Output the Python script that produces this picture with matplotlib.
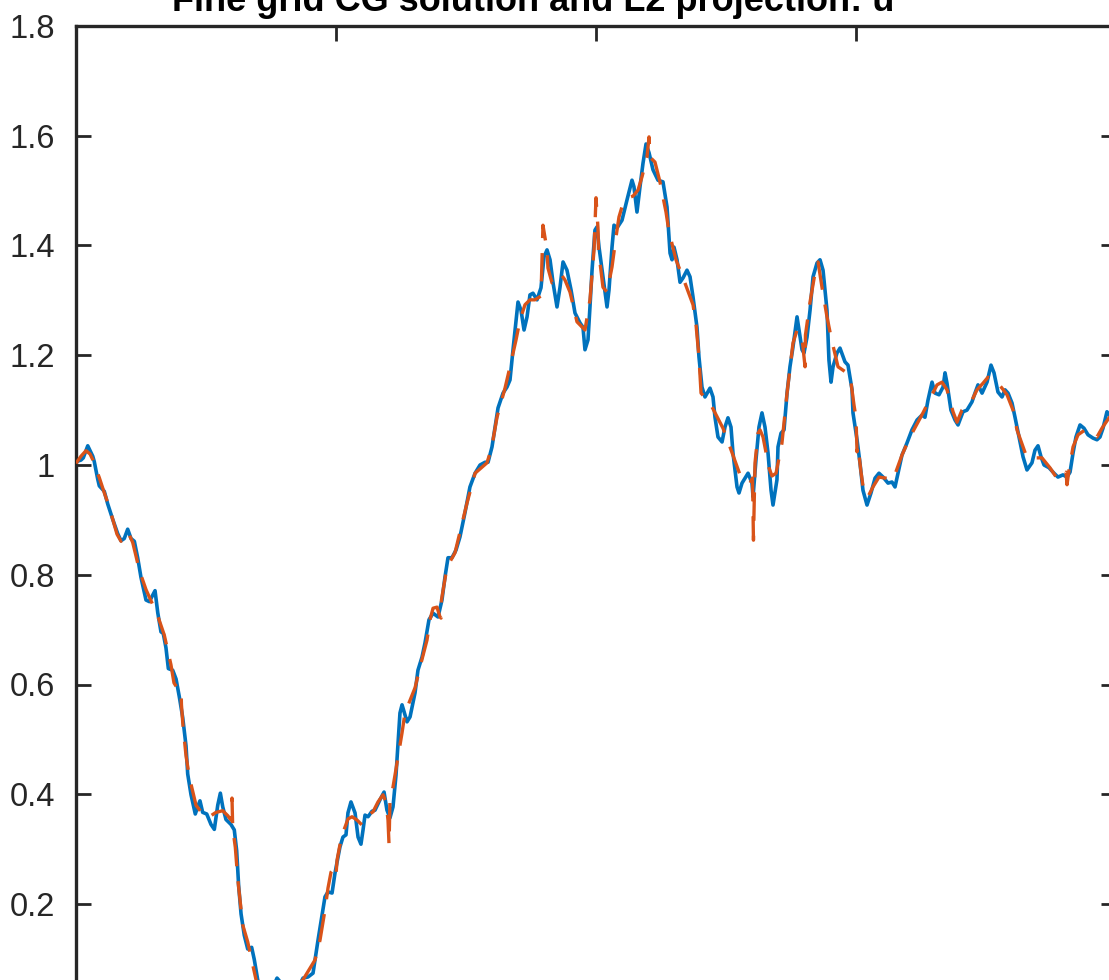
import matplotlib
matplotlib.use("Agg")
import matplotlib.pyplot as plt
from matplotlib import font_manager

title_text = "Fine grid CG solution and L2 projection: u"

# fine-grid CG solution
blue_x = [0.0000, 0.0048, 0.0070, 0.0113, 0.0161, 0.0176, 0.0209, 0.0224, 0.0272, 0.0305,
          0.0353, 0.0401, 0.0433, 0.0464, 0.0497, 0.0529, 0.0561, 0.0593, 0.0625, 0.0673,
          0.0705, 0.0738, 0.0760, 0.0786, 0.0817, 0.0839, 0.0865, 0.0888, 0.0930, 0.0962,
          0.0993, 0.1026, 0.1058, 0.1074, 0.1106, 0.1147, 0.1170, 0.1192, 0.1218, 0.1257,
          0.1298, 0.1330, 0.1363, 0.1388, 0.1411, 0.1442, 0.1490, 0.1522, 0.1545, 0.1564,
          0.1587, 0.1618, 0.1651, 0.1689, 0.1714, 0.1747, 0.1779, 0.1827, 0.1875, 0.1933,
          0.1990, 0.2058, 0.2125, 0.2183, 0.2231, 0.2279, 0.2327, 0.2394, 0.2423, 0.2462,
          0.2490, 0.2538, 0.2567, 0.2596, 0.2615, 0.2644, 0.2683, 0.2712, 0.2740, 0.2760,
          0.2779, 0.2808, 0.2846, 0.2875, 0.2923, 0.2962, 0.2990, 0.3019, 0.3048, 0.3077,
          0.3096, 0.3115, 0.3135, 0.3183, 0.3212, 0.3260, 0.3288, 0.3327, 0.3356, 0.3394,
          0.3433, 0.3481, 0.3519, 0.3548, 0.3577, 0.3615, 0.3654, 0.3692, 0.3740, 0.3788,
          0.3837, 0.3885, 0.3933, 0.3962, 0.4000, 0.4029, 0.4058, 0.4106, 0.4144, 0.4173,
          0.4202, 0.4250, 0.4279, 0.4308, 0.4337, 0.4365, 0.4394, 0.4433, 0.4471, 0.4500,
          0.4529, 0.4558, 0.4587, 0.4625, 0.4654, 0.4683, 0.4721, 0.4760, 0.4798, 0.4846,
          0.4875, 0.4894, 0.4923, 0.4942, 0.4962, 0.4990, 0.5010, 0.5029, 0.5067, 0.5106,
          0.5125, 0.5154, 0.5173, 0.5202, 0.5250, 0.5298, 0.5346, 0.5365, 0.5394, 0.5423,
          0.5452, 0.5481, 0.5510, 0.5548, 0.5596, 0.5644, 0.5683, 0.5712, 0.5731, 0.5750,
          0.5779, 0.5808, 0.5837, 0.5875, 0.5904, 0.5933, 0.5971, 0.5990, 0.6019, 0.6048,
          0.6096, 0.6125, 0.6144, 0.6173, 0.6212, 0.6240, 0.6269, 0.6298, 0.6317, 0.6356,
          0.6375, 0.6404, 0.6433, 0.6462, 0.6500, 0.6510, 0.6538, 0.6567, 0.6596, 0.6625,
          0.6654, 0.6683, 0.6702, 0.6740, 0.6750, 0.6779, 0.6808, 0.6837, 0.6865, 0.6894,
          0.6933, 0.6952, 0.6981, 0.7000, 0.7029, 0.7058, 0.7087, 0.7125, 0.7154, 0.7183,
          0.7221, 0.7240, 0.7260, 0.7279, 0.7317, 0.7346, 0.7394, 0.7423, 0.7462, 0.7471,
          0.7510, 0.7538, 0.7567, 0.7606, 0.7644, 0.7683, 0.7721, 0.7760, 0.7808, 0.7846,
          0.7875, 0.7904, 0.7942, 0.7990, 0.8038, 0.8087, 0.8135, 0.8163, 0.8192, 0.8231,
          0.8260, 0.8298, 0.8337, 0.8356, 0.8375, 0.8413, 0.8452, 0.8481, 0.8529, 0.8567,
          0.8615, 0.8644, 0.8673, 0.8712, 0.8760, 0.8798, 0.8827, 0.8865, 0.8904, 0.8933,
          0.8962, 0.9000, 0.9029, 0.9067, 0.9106, 0.9144, 0.9192, 0.9221, 0.9250, 0.9279,
          0.9308, 0.9356, 0.9404, 0.9442, 0.9490, 0.9529, 0.9558, 0.9587, 0.9615, 0.9654,
          0.9692, 0.9731, 0.9779, 0.9817, 0.9846, 0.9875, 0.9913, 0.9962, 1.0000]
blue_u = [1.006, 1.009, 1.013, 1.035, 1.016, 1.006, 0.974, 0.962, 0.952, 0.929,
          0.901, 0.875, 0.862, 0.866, 0.883, 0.866, 0.861, 0.831, 0.795, 0.754,
          0.751, 0.763, 0.771, 0.731, 0.696, 0.693, 0.667, 0.629, 0.626, 0.610,
          0.578, 0.540, 0.488, 0.437, 0.399, 0.364, 0.377, 0.388, 0.367, 0.364,
          0.345, 0.336, 0.380, 0.402, 0.377, 0.354, 0.345, 0.335, 0.297, 0.233,
          0.182, 0.143, 0.118, 0.121, 0.099, 0.062, 0.043, 0.029, 0.040, 0.065,
          0.052, 0.034, 0.043, 0.065, 0.067, 0.074, 0.134, 0.213, 0.222, 0.220,
          0.256, 0.304, 0.322, 0.326, 0.366, 0.386, 0.366, 0.322, 0.309, 0.335,
          0.362, 0.359, 0.369, 0.371, 0.390, 0.404, 0.371, 0.357, 0.377, 0.435,
          0.490, 0.548, 0.563, 0.532, 0.541, 0.585, 0.626, 0.650, 0.676, 0.718,
          0.730, 0.723, 0.754, 0.796, 0.831, 0.831, 0.845, 0.869, 0.913, 0.960,
          0.985, 1.000, 1.005, 1.005, 1.033, 1.069, 1.104, 1.131, 1.142, 1.155,
          1.210, 1.297, 1.282, 1.246, 1.270, 1.310, 1.313, 1.301, 1.323, 1.379,
          1.392, 1.374, 1.332, 1.288, 1.324, 1.370, 1.355, 1.319, 1.277, 1.259,
          1.251, 1.210, 1.228, 1.288, 1.355, 1.428, 1.434, 1.397, 1.343, 1.288,
          1.319, 1.397, 1.437, 1.432, 1.446, 1.483, 1.519, 1.507, 1.461, 1.507,
          1.550, 1.585, 1.569, 1.538, 1.519, 1.516, 1.470, 1.386, 1.374, 1.397,
          1.374, 1.333, 1.341, 1.355, 1.343, 1.306, 1.251, 1.197, 1.142, 1.124,
          1.140, 1.124, 1.087, 1.051, 1.042, 1.069, 1.086, 1.069, 1.022, 0.960,
          0.949, 0.967, 0.976, 0.985, 0.967, 0.942, 1.009, 1.069, 1.095, 1.069,
          1.022, 0.954, 0.927, 0.973, 1.033, 1.058, 1.064, 1.131, 1.179, 1.215,
          1.270, 1.246, 1.210, 1.204, 1.233, 1.282, 1.343, 1.368, 1.374, 1.355,
          1.282, 1.191, 1.151, 1.179, 1.204, 1.213, 1.188, 1.182, 1.137, 1.095,
          1.046, 1.004, 0.954, 0.927, 0.949, 0.976, 0.985, 0.978, 0.967, 0.969,
          0.960, 0.985, 1.018, 1.040, 1.064, 1.082, 1.091, 1.087, 1.118, 1.151,
          1.131, 1.128, 1.142, 1.168, 1.149, 1.100, 1.082, 1.073, 1.097, 1.100,
          1.115, 1.131, 1.146, 1.131, 1.151, 1.182, 1.168, 1.133, 1.124, 1.137,
          1.131, 1.113, 1.087, 1.051, 1.015, 0.991, 1.004, 1.027, 1.035, 1.015,
          1.000, 0.995, 0.985, 0.978, 0.982, 0.978, 0.987, 1.022, 1.051, 1.073,
          1.067, 1.055, 1.049, 1.046, 1.051, 1.067, 1.097, 1.086, 1.073]

# coarse L2 projection (discontinuous across element boundaries)
proj_x = [0.0000, 0.0048, 0.0096, 0.0135, 0.0163, 0.0192, 0.0224, 0.0269, 0.0320, 0.0368,
          0.0394, 0.0433, 0.0481, 0.0500, 0.0545, 0.0577, 0.0609, 0.0673, 0.0786, 0.0849,
          0.0913, 0.0942, 0.0978, 0.1010, 0.1014, 0.1029, 0.1058, 0.1090, 0.1154, 0.1202,
          0.1266, 0.1346, 0.1411, 0.1459, 0.1490, 0.1500, 0.1507, 0.1532, 0.1555, 0.1577,
          0.1603, 0.1651, 0.1731, 0.1798, 0.1885, 0.2000, 0.2115, 0.2183, 0.2298, 0.2346,
          0.2394, 0.2423, 0.2452, 0.2481, 0.2500, 0.2510, 0.2538, 0.2577, 0.2615, 0.2654,
          0.2702, 0.2750, 0.2808, 0.2856, 0.2904, 0.2952, 0.2981, 0.3000, 0.3010, 0.3019,
          0.3048, 0.3087, 0.3135, 0.3163, 0.3260, 0.3308, 0.3375, 0.3404, 0.3433, 0.3471,
          0.3500, 0.3510, 0.3514, 0.3567, 0.3644, 0.3721, 0.3760, 0.3837, 0.3952, 0.3981,
          0.4010, 0.4048, 0.4125, 0.4173, 0.4231, 0.4269, 0.4317, 0.4365, 0.4413, 0.4471,
          0.4490, 0.4529, 0.4538, 0.4577, 0.4625, 0.4663, 0.4702, 0.4750, 0.4817, 0.4894,
          0.4942, 0.4981, 0.5000, 0.5019, 0.5024, 0.5067, 0.5106, 0.5154, 0.5192, 0.5221,
          0.5260, 0.5308, 0.5356, 0.5404, 0.5442, 0.5490, 0.5510, 0.5519, 0.5567, 0.5615,
          0.5673, 0.5702, 0.5769, 0.5837, 0.5933, 0.5962, 0.5990, 0.6010, 0.6096, 0.6221,
          0.6288, 0.6385, 0.6481, 0.6505, 0.6514, 0.6529, 0.6558, 0.6577, 0.6606, 0.6663,
          0.6692, 0.6731, 0.6788, 0.6837, 0.6894, 0.6933, 0.6981, 0.7010, 0.7014, 0.7058,
          0.7106, 0.7135, 0.7173, 0.7221, 0.7260, 0.7327, 0.7442, 0.7481, 0.7500, 0.7510,
          0.7519, 0.7548, 0.7577, 0.7615, 0.7663, 0.7721, 0.7788, 0.7856, 0.7942, 0.8019,
          0.8144, 0.8231, 0.8279, 0.8327, 0.8375, 0.8433, 0.8471, 0.8519, 0.8615, 0.8663,
          0.8721, 0.8769, 0.8837, 0.8904, 0.8952, 0.9010, 0.9048, 0.9144, 0.9221, 0.9288,
          0.9365, 0.9442, 0.9519, 0.9529, 0.9548, 0.9587, 0.9635, 0.9702, 0.9769, 0.9817,
          0.9865, 0.9933, 1.0000]
proj_u = [1.003, 1.016, 1.026, 1.020, 1.009, 0.993, 0.977, 0.951, 0.923, 0.891,
          0.874, 0.861, 0.872, 0.878, 0.859, 0.834, 0.808, 0.773, 0.725, 0.690,
          0.636, 0.603, 0.592, 0.590, 0.563, 0.524, 0.470, 0.431, 0.380, 0.368,
          0.357, 0.367, 0.370, 0.361, 0.353, 0.393, 0.338, 0.303, 0.246, 0.207,
          0.162, 0.131, 0.062, 0.034, 0.025, 0.038, 0.047, 0.062, 0.098, 0.134,
          0.189, 0.229, 0.258, 0.266, 0.253, 0.280, 0.308, 0.335, 0.355, 0.359,
          0.353, 0.344, 0.362, 0.368, 0.386, 0.399, 0.386, 0.353, 0.308, 0.390,
          0.413, 0.457, 0.512, 0.548, 0.594, 0.632, 0.681, 0.718, 0.739, 0.741,
          0.723, 0.721, 0.754, 0.814, 0.840, 0.900, 0.931, 0.985, 1.004, 1.022,
          1.046, 1.087, 1.140, 1.179, 1.228, 1.264, 1.292, 1.301, 1.301, 1.308,
          1.437, 1.392, 1.359, 1.332, 1.337, 1.348, 1.337, 1.315, 1.261, 1.246,
          1.301, 1.392, 1.487, 1.432, 1.392, 1.324, 1.315, 1.361, 1.415, 1.452,
          1.477, 1.487, 1.490, 1.501, 1.525, 1.561, 1.598, 1.561, 1.552, 1.516,
          1.461, 1.425, 1.374, 1.341, 1.292, 1.255, 1.197, 1.131, 1.113, 1.067,
          1.033, 0.982, 0.967, 0.976, 0.863, 1.004, 1.058, 1.064, 1.051, 0.995,
          0.980, 0.985, 1.040, 1.131, 1.222, 1.246, 1.231, 1.179, 1.237, 1.297,
          1.350, 1.370, 1.324, 1.270, 1.233, 1.179, 1.164, 1.109, 1.086, 1.024,
          1.035, 0.987, 0.949, 0.942, 0.960, 0.978, 0.976, 0.973, 1.018, 1.051,
          1.095, 1.128, 1.146, 1.151, 1.137, 1.097, 1.078, 1.100, 1.118, 1.137,
          1.149, 1.160, 1.155, 1.140, 1.128, 1.100, 1.064, 1.013, 1.013, 1.013,
          0.995, 0.973, 0.987, 0.964, 0.991, 1.033, 1.055, 1.064, 1.058, 1.051,
          1.067, 1.086, 1.100]

y_ticks = [0.2, 0.4, 0.6, 0.8, 1, 1.2, 1.4, 1.6, 1.8]
y_tick_labels = ["0.2", "0.4", "0.6", "0.8", "1", "1.2", "1.4", "1.6", "1.8"]
x_ticks = [0, 0.25, 0.5, 0.75, 1]

installed = {f.name for f in font_manager.fontManager.ttflist}
narrow = "Liberation Sans Narrow" if "Liberation Sans Narrow" in installed else None
if narrow:
    plt.rcParams["font.family"] = [narrow, "DejaVu Sans"]
    tick_size, title_size = 27, 30
else:
    plt.rcParams["font.family"] = ["Liberation Sans", "DejaVu Sans"]
    tick_size, title_size = 23.5, 26

W, H = 1109, 980
fig = plt.figure(figsize=(W / 100, H / 100), dpi=100)
fig.patch.set_facecolor("white")

# axes box: left edge at 76 px, top at 26 px, 1040 px wide, 0..1.8 spans 987.75 px
ax = fig.add_axes([76 / W, 1 - 1013.75 / H, 1040 / W, 987.75 / H])

ax.plot(blue_x, blue_u, color="#0072BD", lw=2.6, solid_joinstyle="round",
        solid_capstyle="round", zorder=2)
ax.plot(proj_x, proj_u, color="#D95319", lw=2.4, dashes=(8.5, 4.5), zorder=3)

ax.set_xlim(0, 1)
ax.set_ylim(0, 1.8)
ax.set_xticks(x_ticks)
ax.set_xticklabels([])
ax.set_yticks(y_ticks)
ax.set_yticklabels(y_tick_labels)

edge = "#262626"
for s in ax.spines.values():
    s.set_linewidth(2.4)
    s.set_color(edge)
ax.tick_params(direction="in", length=11, width=2, color=edge,
               top=True, right=True, labelsize=tick_size, pad=15, labelcolor=edge)

fig.text(533 / W, 1 - 11 / H, title_text, ha="center", va="baseline",
         fontsize=title_size, fontweight="bold", color="black")

fig.savefig("out.png", dpi=100, facecolor="white")
